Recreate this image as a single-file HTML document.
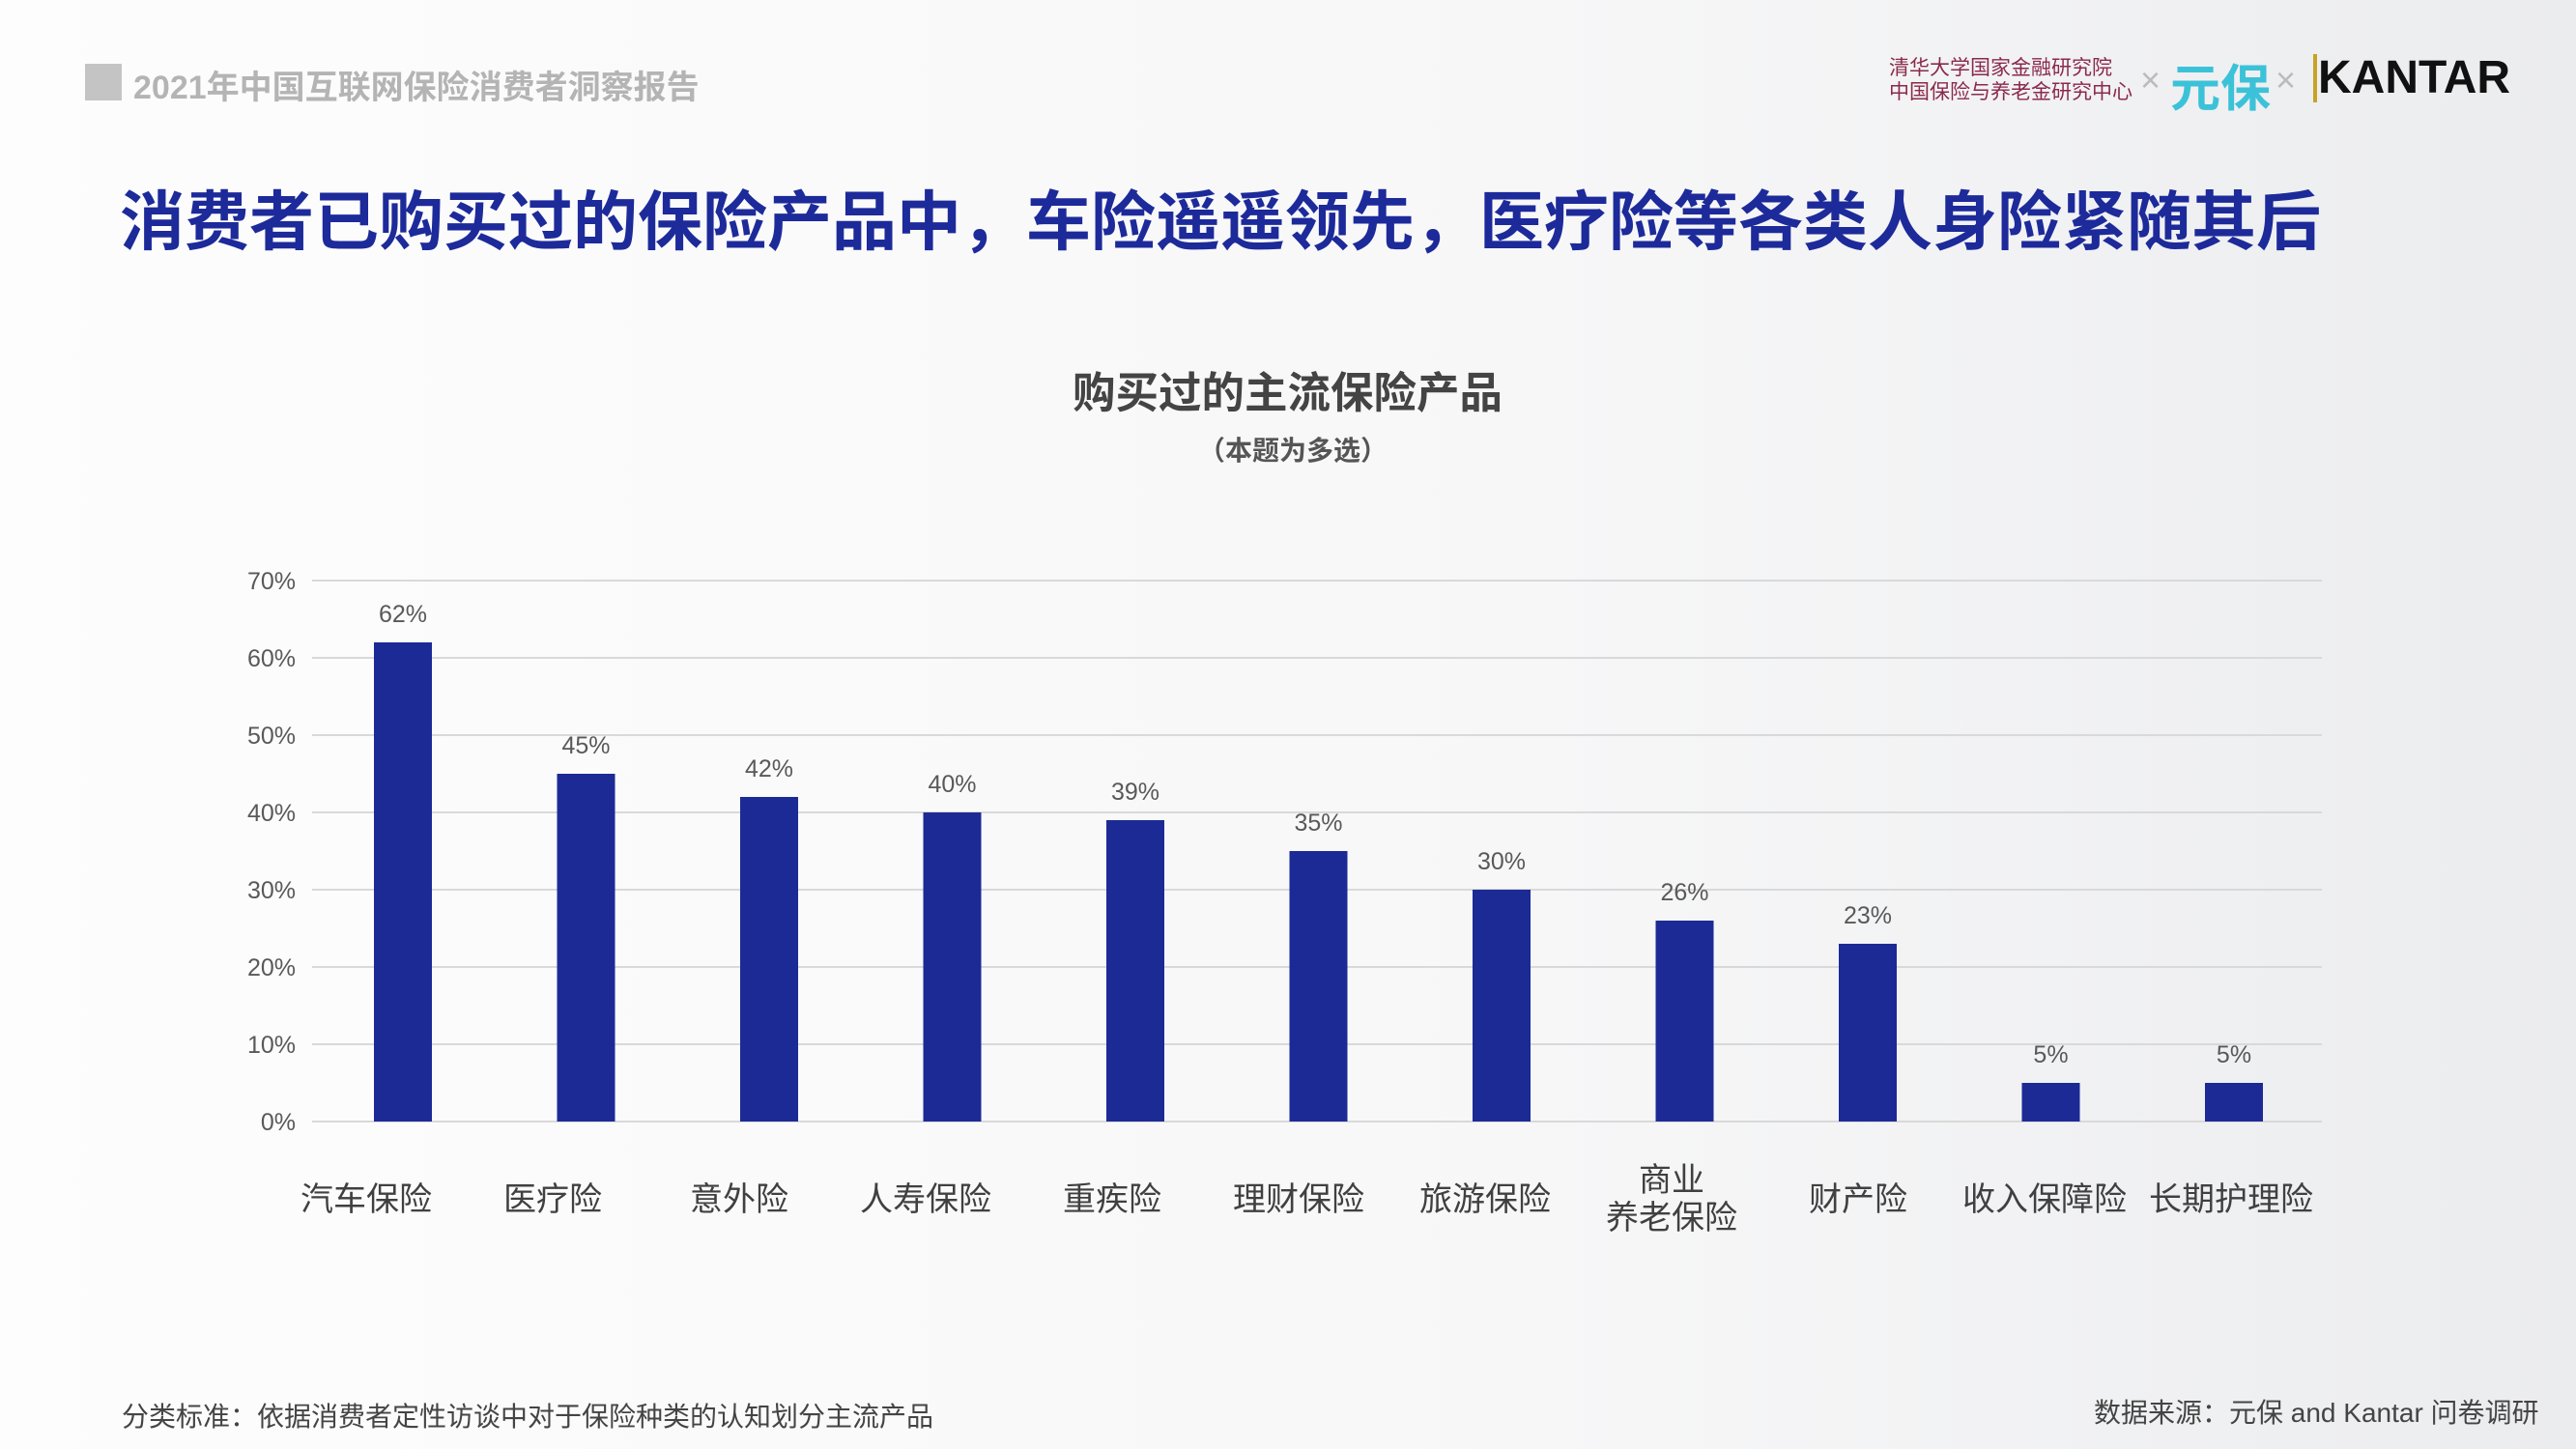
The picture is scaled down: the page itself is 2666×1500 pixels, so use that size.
<!DOCTYPE html>
<html><head><meta charset="utf-8"><style>
body{margin:0;width:2666px;height:1500px;overflow:hidden;background:linear-gradient(90deg,#fdfdfd 0%,#f7f7f8 60%,#ebecee 100%);font-family:"Liberation Sans","Noto Sans CJK SC",sans-serif;position:relative}
.a{position:absolute;white-space:nowrap}
</style></head><body>
<div class="a" style="left:88px;top:66px;width:38px;height:38px;background:#c4c4c4"></div>
<div class="a" style="left:138px;top:63px;font-size:34px;font-weight:bold;color:#b4b4b4">2021年中国互联网保险消费者洞察报告</div>
<div class="a" style="left:1955px;top:58px;font-size:21px;line-height:25px;color:#8b2a4a">清华大学国家金融研究院<br>中国保险与养老金研究中心</div>
<div class="a" style="left:2215px;top:62px;font-size:36px;color:#bbb">×</div>
<div class="a" style="left:2246px;top:50px;font-size:52px;font-weight:bold;color:#3cc2d8">元保</div>
<div class="a" style="left:2355px;top:62px;font-size:36px;color:#bbb">×</div>
<div class="a" style="left:2394px;top:56px;font-size:48px;font-weight:bold;color:#111;border-left:4px solid #c9a227;padding-left:1px;line-height:50px">KANTAR</div>
<div class="a" style="left:124px;top:176px;font-size:67px;font-weight:bold;color:#1d2a9a">消费者已购买过的保险产品中，车险遥遥领先，医疗险等各类人身险紧随其后</div>
<div class="a" style="left:1110px;top:370px;font-size:44.5px;font-weight:bold;color:#444">购买过的主流保险产品</div>
<div class="a" style="left:1240px;top:445px;font-size:28px;font-weight:bold;color:#555">（本题为多选）</div>
<svg class="a" style="left:0;top:0" width="2666" height="1500" id="chart"></svg>
<div class="a" style="left:126px;top:1445px;font-size:28px;color:#444">分类标准：依据消费者定性访谈中对于保险种类的认知划分主流产品</div>
<div class="a" style="left:2167px;top:1441px;font-size:28px;color:#444">数据来源：元保 and Kantar 问卷调研</div>
<script>
const categories=[["汽车保险"],["医疗险"],["意外险"],["人寿保险"],["重疾险"],["理财保险"],["旅游保险"],["商业","养老保险"],["财产险"],["收入保障险"],["长期护理险"]];
const values=[62,45,42,40,39,35,30,26,23,5,5];
const ticks=[0,10,20,30,40,50,60,70];
const NS="http://www.w3.org/2000/svg";
const svg=document.getElementById('chart');
const y0=1161,pxPer=8.0,x0=417,step=189.5,bw=60;
const yS=v=>y0-v*pxPer, xS=i=>x0+i*step, xL=i=>379+i*193;
function mk(t,a,txt){const e=document.createElementNS(NS,t);for(const k in a)e.setAttribute(k,a[k]);if(txt!=null)e.textContent=txt;svg.appendChild(e);return e;}
ticks.forEach(t=>{
const g=mk('line',{x1:323,x2:2403,y1:yS(t),y2:yS(t),stroke:'#d9d9d9','stroke-width':2});


const l=mk('text',{x:306,y:yS(t)+9,'text-anchor':'end','font-size':25,fill:'#595959','font-family':'Liberation Sans, sans-serif'},t+'%');


});
values.forEach((v,i)=>{
const b=mk('rect',{x:xS(i)-bw/2,y:yS(v),width:bw,height:v*pxPer,fill:'#1c2a96'});


const t=mk('text',{x:xS(i),y:yS(v)-21,'text-anchor':'middle','font-size':25,fill:'#595959','font-family':'Liberation Sans, sans-serif'},v+'%');


const lines=categories[i];
lines.forEach((s,j)=>{
const c=mk('text',{x:xL(i),y:(lines.length>1?1233:1253)+j*39,'text-anchor':'middle','font-size':34,fill:'#404040','font-family':'Liberation Sans, Noto Sans CJK SC, sans-serif'},s);


});
});
</script>
</body></html>
